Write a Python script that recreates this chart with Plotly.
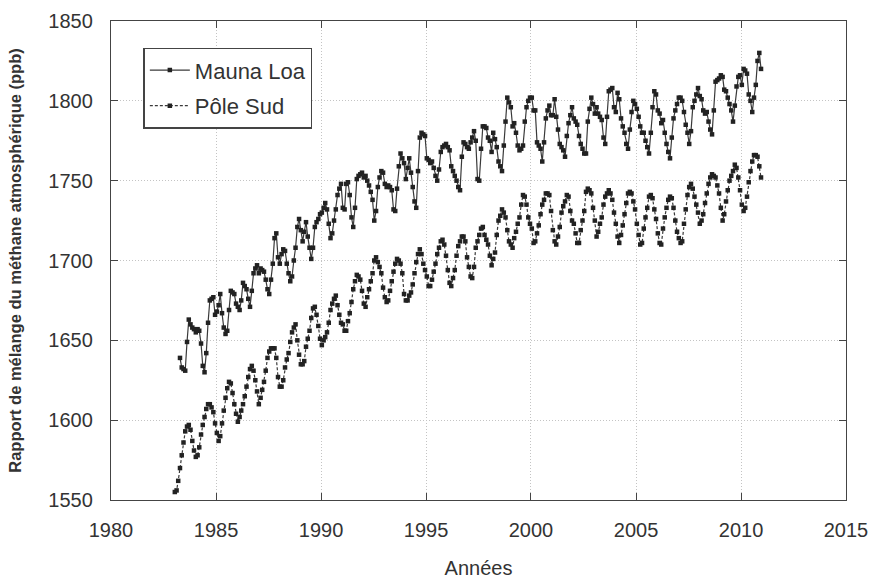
import pandas as pd
import plotly.graph_objects as go

# Monthly atmospheric methane mixing ratio (ppb)
mauna_loa_start = "1983-04"
mauna_loa_ppb = [
    1639, 1633, 1632, 1631, 1649, 1663, 1660, 1658, 1657,                    # 1983 (Apr-Dec)
    1655, 1657, 1656, 1648, 1634, 1630, 1642, 1661, 1675, 1676, 1677, 1666,  # 1984
    1668, 1672, 1679, 1667, 1658, 1654, 1656, 1669, 1681, 1680, 1679, 1673,  # 1985
    1671, 1669, 1675, 1686, 1684, 1682, 1676, 1671, 1681, 1692, 1695, 1697,  # 1986
    1692, 1695, 1694, 1693, 1688, 1682, 1679, 1688, 1698, 1714, 1717, 1702,  # 1987
    1698, 1704, 1707, 1706, 1698, 1692, 1687, 1690, 1700, 1708, 1721, 1726,  # 1988
    1719, 1712, 1718, 1724, 1715, 1708, 1701, 1708, 1721, 1724, 1726, 1729,  # 1989
    1730, 1733, 1736, 1732, 1723, 1714, 1717, 1725, 1732, 1741, 1745, 1748,  # 1990
    1733, 1732, 1748, 1749, 1741, 1727, 1721, 1733, 1751, 1753, 1754, 1755,  # 1991
    1752, 1753, 1750, 1747, 1743, 1738, 1725, 1731, 1746, 1752, 1756, 1755,  # 1992
    1748, 1746, 1747, 1746, 1744, 1732, 1731, 1745, 1759, 1767, 1764, 1761,  # 1993
    1751, 1758, 1764, 1755, 1746, 1737, 1733, 1756, 1777, 1780, 1779, 1778,  # 1994
    1764, 1763, 1761, 1762, 1758, 1753, 1750, 1757, 1768, 1771, 1772, 1773,  # 1995
    1771, 1769, 1759, 1756, 1753, 1750, 1746, 1744, 1765, 1774, 1773, 1771,  # 1996
    1770, 1774, 1777, 1781, 1775, 1751, 1750, 1770, 1784, 1784, 1783, 1777,  # 1997
    1775, 1768, 1780, 1776, 1771, 1762, 1759, 1756, 1772, 1787, 1802, 1799,  # 1998
    1796, 1784, 1786, 1780, 1772, 1769, 1770, 1772, 1787, 1796, 1800, 1802,  # 1999
    1802, 1794, 1794, 1774, 1772, 1770, 1762, 1774, 1789, 1794, 1797, 1791,  # 2000
    1791, 1801, 1790, 1782, 1773, 1771, 1769, 1765, 1778, 1786, 1791, 1796,  # 2001
    1789, 1787, 1785, 1778, 1773, 1770, 1767, 1767, 1787, 1795, 1802, 1798,  # 2002
    1792, 1796, 1792, 1790, 1788, 1777, 1773, 1790, 1806, 1807, 1808, 1796,  # 2003
    1793, 1805, 1801, 1789, 1784, 1780, 1773, 1770, 1782, 1793, 1800, 1798,  # 2004
    1795, 1790, 1784, 1780, 1780, 1775, 1771, 1767, 1780, 1796, 1806, 1804,  # 2005
    1794, 1792, 1786, 1788, 1780, 1773, 1768, 1764, 1777, 1789, 1794, 1798,  # 2006
    1802, 1802, 1800, 1793, 1785, 1780, 1773, 1781, 1796, 1800, 1804, 1808,  # 2007
    1803, 1801, 1794, 1792, 1793, 1787, 1782, 1779, 1794, 1812, 1813, 1814,  # 2008
    1816, 1815, 1807, 1806, 1802, 1798, 1794, 1787, 1797, 1809, 1815, 1816,  # 2009
    1810, 1820, 1819, 1817, 1804, 1800, 1793, 1802, 1810, 1825, 1830, 1820,  # 2010
]

south_pole_start = "1983-01"
south_pole_ppb = [
    1555, 1556, 1562, 1570, 1578, 1586, 1593, 1596, 1597, 1594, 1587, 1581,  # 1983
    1577, 1578, 1583, 1591, 1597, 1602, 1607, 1610, 1610, 1608, 1605, 1598,  # 1984
    1592, 1587, 1590, 1598, 1606, 1614, 1620, 1624, 1623, 1617, 1610, 1604,  # 1985
    1599, 1602, 1606, 1610, 1615, 1621, 1627, 1632, 1634, 1631, 1625, 1618,  # 1986
    1610, 1614, 1619, 1624, 1631, 1639, 1643, 1645, 1645, 1645, 1639, 1627,  # 1987
    1621, 1621, 1625, 1633, 1638, 1642, 1649, 1655, 1658, 1660, 1650, 1641,  # 1988
    1635, 1635, 1637, 1646, 1651, 1656, 1664, 1670, 1671, 1666, 1659, 1651,  # 1989
    1647, 1650, 1652, 1655, 1661, 1669, 1673, 1676, 1678, 1672, 1666, 1661,  # 1990
    1660, 1656, 1656, 1662, 1667, 1674, 1682, 1687, 1691, 1690, 1688, 1681,  # 1991
    1673, 1671, 1677, 1682, 1687, 1692, 1700, 1702, 1699, 1696, 1692, 1683,  # 1992
    1677, 1674, 1675, 1681, 1687, 1693, 1698, 1701, 1700, 1698, 1692, 1679,  # 1993
    1675, 1675, 1678, 1680, 1685, 1692, 1699, 1704, 1707, 1704, 1698, 1694,  # 1994
    1690, 1684, 1684, 1688, 1693, 1698, 1704, 1708, 1712, 1713, 1710, 1703,  # 1995
    1694, 1686, 1684, 1689, 1694, 1703, 1709, 1712, 1715, 1715, 1712, 1702,  # 1996
    1696, 1690, 1689, 1696, 1708, 1712, 1716, 1720, 1721, 1716, 1713, 1710,  # 1997
    1703, 1697, 1701, 1705, 1716, 1725, 1728, 1732, 1730, 1727, 1719, 1712,  # 1998
    1710, 1708, 1714, 1718, 1723, 1727, 1735, 1741, 1740, 1735, 1727, 1723,  # 1999
    1720, 1711, 1712, 1717, 1722, 1729, 1735, 1738, 1742, 1742, 1741, 1731,  # 2000
    1719, 1712, 1710, 1715, 1721, 1730, 1734, 1737, 1741, 1740, 1731, 1725,  # 2001
    1723, 1717, 1711, 1711, 1719, 1725, 1731, 1743, 1745, 1744, 1742, 1733,  # 2002
    1725, 1715, 1718, 1723, 1727, 1735, 1740, 1742, 1744, 1742, 1738, 1730,  # 2003
    1723, 1715, 1711, 1716, 1722, 1729, 1736, 1742, 1743, 1742, 1737, 1732,  # 2004
    1723, 1716, 1710, 1711, 1720, 1727, 1733, 1740, 1741, 1739, 1732, 1726,  # 2005
    1717, 1711, 1710, 1720, 1727, 1733, 1738, 1740, 1739, 1733, 1725, 1718,  # 2006
    1714, 1711, 1712, 1723, 1732, 1741, 1746, 1748, 1745, 1740, 1735, 1730,  # 2007
    1723, 1725, 1729, 1736, 1742, 1748, 1752, 1754, 1753, 1752, 1747, 1742,  # 2008
    1733, 1725, 1729, 1737, 1744, 1750, 1753, 1756, 1760, 1758, 1752, 1744,  # 2009
    1735, 1731, 1733, 1740, 1749, 1756, 1762, 1766, 1766, 1765, 1759, 1752,  # 2010
]

series_names = ["Mauna Loa", "Pôle Sud"]
x_tick_years = list(range(1980, 2016, 5))
y_ticks = list(range(1550, 1851, 50))


def monthly_dates(start, count):
    # mid-month timestamps for a monthly record
    return pd.date_range(start=start, periods=count, freq="MS") + pd.Timedelta(days=14)


ink = "#333333"
font_family = "Liberation Sans, Arial, sans-serif"

fig = go.Figure()
fig.add_trace(go.Scatter(
    x=monthly_dates(mauna_loa_start, len(mauna_loa_ppb)),
    y=mauna_loa_ppb,
    name=series_names[0],
    legendgroup="ml",
    mode="lines+markers",
    line=dict(color="#3a3a3a", width=1.2),
    marker=dict(color="#222222", size=4.5, symbol="square"),
))
fig.add_trace(go.Scatter(
    x=monthly_dates(south_pole_start, len(south_pole_ppb)),
    y=south_pole_ppb,
    name=series_names[1],
    legendgroup="sp",
    mode="lines+markers",
    line=dict(color="#3a3a3a", width=1.2, dash="3px,2px"),
    marker=dict(color="#222222", size=4.5, symbol="square"),
))

axis_common = dict(
    showgrid=True,
    gridcolor="#c4c4c4",
    griddash="1px,2px",
    gridwidth=1,
    showline=True,
    linecolor="#444444",
    linewidth=1.3,
    mirror="ticks",
    ticks="inside",
    ticklen=7,
    tickwidth=1.2,
    tickcolor="#444444",
    tickfont=dict(size=20, color=ink, family=font_family),
    zeroline=False,
    automargin=False,
)

fig.update_layout(
    width=872,
    height=581,
    margin=dict(l=111, r=26, t=21, b=81),
    paper_bgcolor="white",
    plot_bgcolor="white",
    font=dict(family=font_family, color=ink),
    xaxis=dict(
        type="date",
        range=["1980-01-01", "2015-01-01"],
        tickvals=[f"{y}-01-01" for y in x_tick_years],
        ticktext=[str(y) for y in x_tick_years],
        ticklabelstandoff=12,
        title=dict(text="Années", font=dict(size=20, color=ink), standoff=20),
        **axis_common,
    ),
    yaxis=dict(
        range=[1550, 1850],
        tickvals=y_ticks,
        ticklabelstandoff=13,
        title=dict(
            text="Rapport de mélange du méthane atmosphérique (ppb)",
            font=dict(size=16.5, color=ink, family=font_family, weight="bold"),
            standoff=22,
        ),
        **axis_common,
    ),
    legend=dict(
        x=0.044,
        y=0.944,
        xanchor="left",
        yanchor="top",
        bgcolor="white",
        bordercolor="#444444",
        borderwidth=1.5,
        font=dict(size=22, color=ink),
        itemwidth=40,
        tracegroupgap=4,
    ),
    showlegend=True,
)

fig.write_html("out.html")
